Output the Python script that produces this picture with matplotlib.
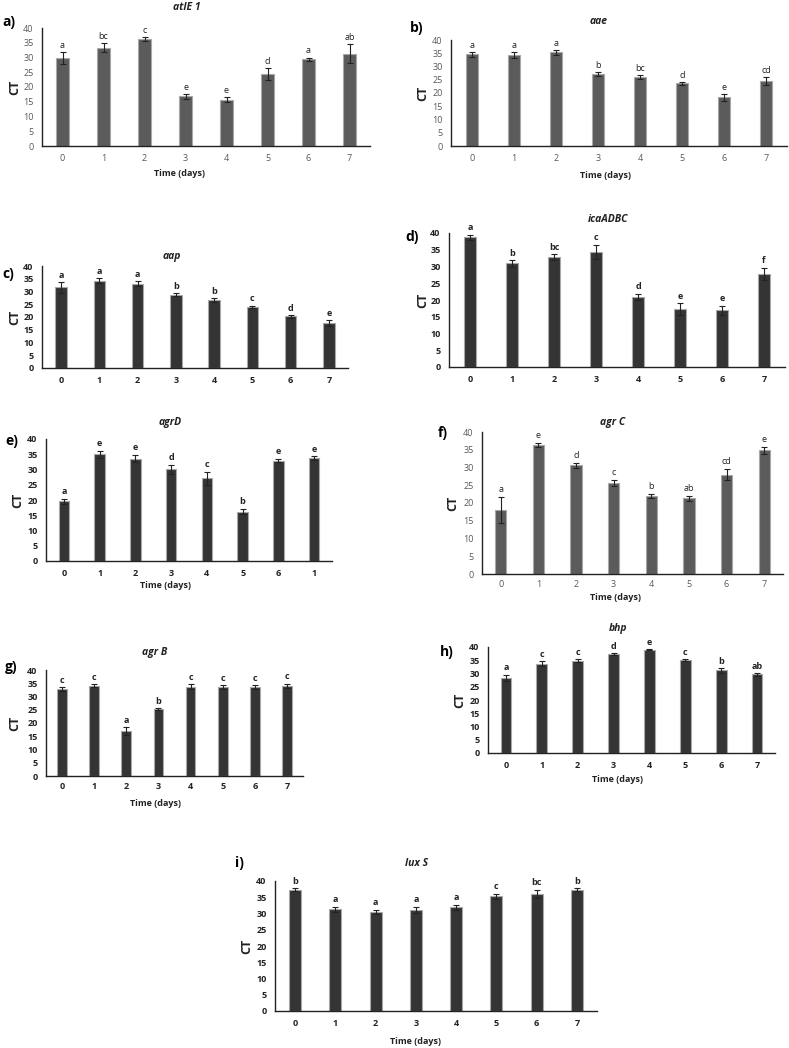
import matplotlib
matplotlib.use("Agg")
import matplotlib.pyplot as plt

plt.rcParams['font.family'] = ['Open Sans', 'DejaVu Sans']

W, H = 789, 1048

days = ['0', '1', '2', '3', '4', '5', '6', '7']
agrd_days = ['0', '1', '2', '3', '4', '5', '6', '1']

atle_ct = [29.7, 33.3, 36.2, 16.8, 15.7, 24.4, 29.4, 31.3]
atle_err = [2.0, 1.5, 0.7, 0.7, 0.9, 2.0, 0.5, 3.3]
atle_let = ['a', 'bc', 'c', 'e', 'e', 'd', 'a', 'ab']

aae_ct = [34.6, 34.3, 35.3, 27.1, 26.0, 23.6, 18.4, 24.4]
aae_err = [1.0, 1.0, 0.8, 0.7, 0.8, 0.6, 1.3, 1.5]
aae_let = ['a', 'a', 'a', 'b', 'bc', 'd', 'e', 'cd']

aap_ct = [31.6, 34.2, 33.0, 28.8, 26.8, 24.1, 20.2, 17.7]
aap_err = [2.0, 1.0, 1.0, 0.7, 0.8, 0.4, 0.6, 1.2]
aap_let = ['a', 'a', 'a', 'b', 'b', 'c', 'd', 'e']

ica_ct = [38.7, 30.9, 32.8, 34.3, 21.0, 17.3, 16.9, 27.8]
ica_err = [0.8, 0.9, 0.8, 2.2, 0.9, 1.7, 1.3, 1.7]
ica_let = ['a', 'b', 'bc', 'c', 'd', 'e', 'e', 'f']

agrd_ct = [19.6, 35.0, 33.6, 30.0, 27.1, 16.2, 32.9, 33.7]
agrd_err = [0.8, 1.2, 1.3, 1.5, 2.2, 0.9, 0.6, 0.7]
agrd_let = ['a', 'e', 'e', 'd', 'c', 'b', 'e', 'e']

agrc_ct = [18.0, 36.4, 30.6, 25.6, 21.9, 21.3, 28.0, 34.8]
agrc_err = [3.6, 0.6, 0.7, 0.8, 0.6, 0.6, 1.5, 1.1]
agrc_let = ['a', 'e', 'd', 'c', 'b', 'ab', 'cd', 'e']

agrb_ct = [32.7, 34.1, 16.9, 25.2, 33.7, 33.5, 33.5, 34.1]
agrb_err = [0.7, 0.5, 1.5, 0.4, 0.9, 0.8, 0.8, 0.8]
agrb_let = ['c', 'c', 'a', 'b', 'c', 'c', 'c', 'c']

bhp_ct = [28.4, 33.7, 34.8, 37.4, 39.0, 35.1, 31.2, 29.7]
bhp_err = [1.2, 1.0, 0.5, 0.4, 0.3, 0.5, 0.9, 0.6]
bhp_let = ['a', 'c', 'c', 'd', 'e', 'c', 'b', 'ab']

luxs_ct = [37.3, 31.3, 30.5, 31.1, 31.9, 35.3, 36.0, 37.3]
luxs_err = [0.4, 0.7, 0.6, 1.0, 0.8, 0.7, 1.3, 0.4]
luxs_let = ['b', 'a', 'a', 'a', 'a', 'c', 'bc', 'b']

GREY = '#5b5b5b'
DARK = '#343434'

fig = plt.figure(figsize=(W / 100, H / 100), dpi=100)


def ftext(x, y, s, **kw):
    fig.text(x / W, 1 - y / H, s, **kw)


def panel(box, ct, err, let, ticks, color, title, tpos, plab, ppos, ctx,
          xlab=None, bold=True, xpad=6):
    x0, ytop, x1, ybot = box
    ax = fig.add_axes([x0 / W, 1 - ybot / H, (x1 - x0) / W, (ybot - ytop) / H])
    xs = range(len(ct))
    ax.bar(xs, ct, width=0.3, color=color, edgecolor='#a8a8a8', linewidth=0.8,
           yerr=err, error_kw=dict(ecolor='#222222', elinewidth=0.8,
                                   capsize=2, capthick=0.8))
    for i in xs:
        ax.text(i, ct[i] + err[i] + 0.8, let[i], ha='center', va='bottom',
                fontsize=6.5, color='#222222',
                fontweight='bold' if bold else 'normal')
    ax.set_xlim(-0.5, len(ct) - 0.5)
    ax.set_ylim(0, 40)
    ax.set_yticks(range(0, 41, 5))
    ax.set_xticks(list(xs))
    ax.set_xticklabels(ticks)
    tc = '#222222' if bold else '#595959'
    fw = 'bold' if bold else 'normal'
    ax.tick_params(length=0, labelsize=6.5, colors=tc, pad=6)
    for lab in ax.get_xticklabels() + ax.get_yticklabels():
        lab.set_fontweight(fw)
    ax.tick_params(axis='x', pad=xpad)
    for s in ['top', 'right']:
        ax.spines[s].set_visible(False)
    for s in ['left', 'bottom']:
        ax.spines[s].set_color('#222222')
        ax.spines[s].set_linewidth(1.0)
    ftext(tpos[0], tpos[1], title, ha='center', va='center', fontsize=7.5,
          style='italic', fontweight='bold', color='#222222')
    ftext(ppos[0], ppos[1], plab, ha='left', va='center', fontsize=10,
          fontweight='bold', color='black')
    ftext(ctx, (ytop + ybot) / 2, 'CT', ha='center', va='center', fontsize=9,
          fontweight='bold', rotation=90, color='#222222')
    if xlab:
        ftext(xlab[0], xlab[1], 'Time (days)', ha='center', va='center',
              fontsize=6.5, fontweight='bold', color='#222222')
    return ax


panel((42, 28, 370, 146), atle_ct, atle_err, atle_let, days, GREY, 'atlE 1',
      (187, 7), 'a)', (2, 22), 15, xlab=(180, 173), bold=False)
panel((451, 40, 787, 146), aae_ct, aae_err, aae_let, days, GREY, 'aae',
      (599, 22), 'b)', (410, 28), 423, xlab=(605, 175), bold=False)
panel((42, 266, 348, 368), aap_ct, aap_err, aap_let, days, DARK, 'aap',
      (172, 256), 'c)', (2, 274), 15)
panel((449, 233, 785, 367), ica_ct, ica_err, ica_let, days, DARK, 'icaADBC',
      (608, 220), 'd)', (405, 237), 423)
panel((46, 439, 332, 561), agrd_ct, agrd_err, agrd_let, agrd_days, DARK, 'agrD',
      (170, 422), 'e)', (5, 441), 18, xlab=(165, 586))
panel((482, 432, 783, 574), agrc_ct, agrc_err, agrc_let, days, GREY, 'agr C',
      (613, 422), 'f)', (438, 433), 453, xlab=(615, 598), bold=False, xpad=4)
panel((46, 670, 303, 776), agrb_ct, agrb_err, agrb_let, days, DARK, 'agr B',
      (155, 653), 'g)', (5, 667), 15, xlab=(155, 804), xpad=4)
panel((488, 647, 775, 753), bhp_ct, bhp_err, bhp_let, days, DARK, 'bhp',
      (618, 629), 'h)', (440, 652), 460, xlab=(617, 779))
panel((275, 881, 597, 1011), luxs_ct, luxs_err, luxs_let, days, DARK, 'lux S',
      (417, 863), 'i)', (235, 863), 247, xlab=(415, 1042))

fig.savefig('out.png', dpi=100, facecolor='white')
